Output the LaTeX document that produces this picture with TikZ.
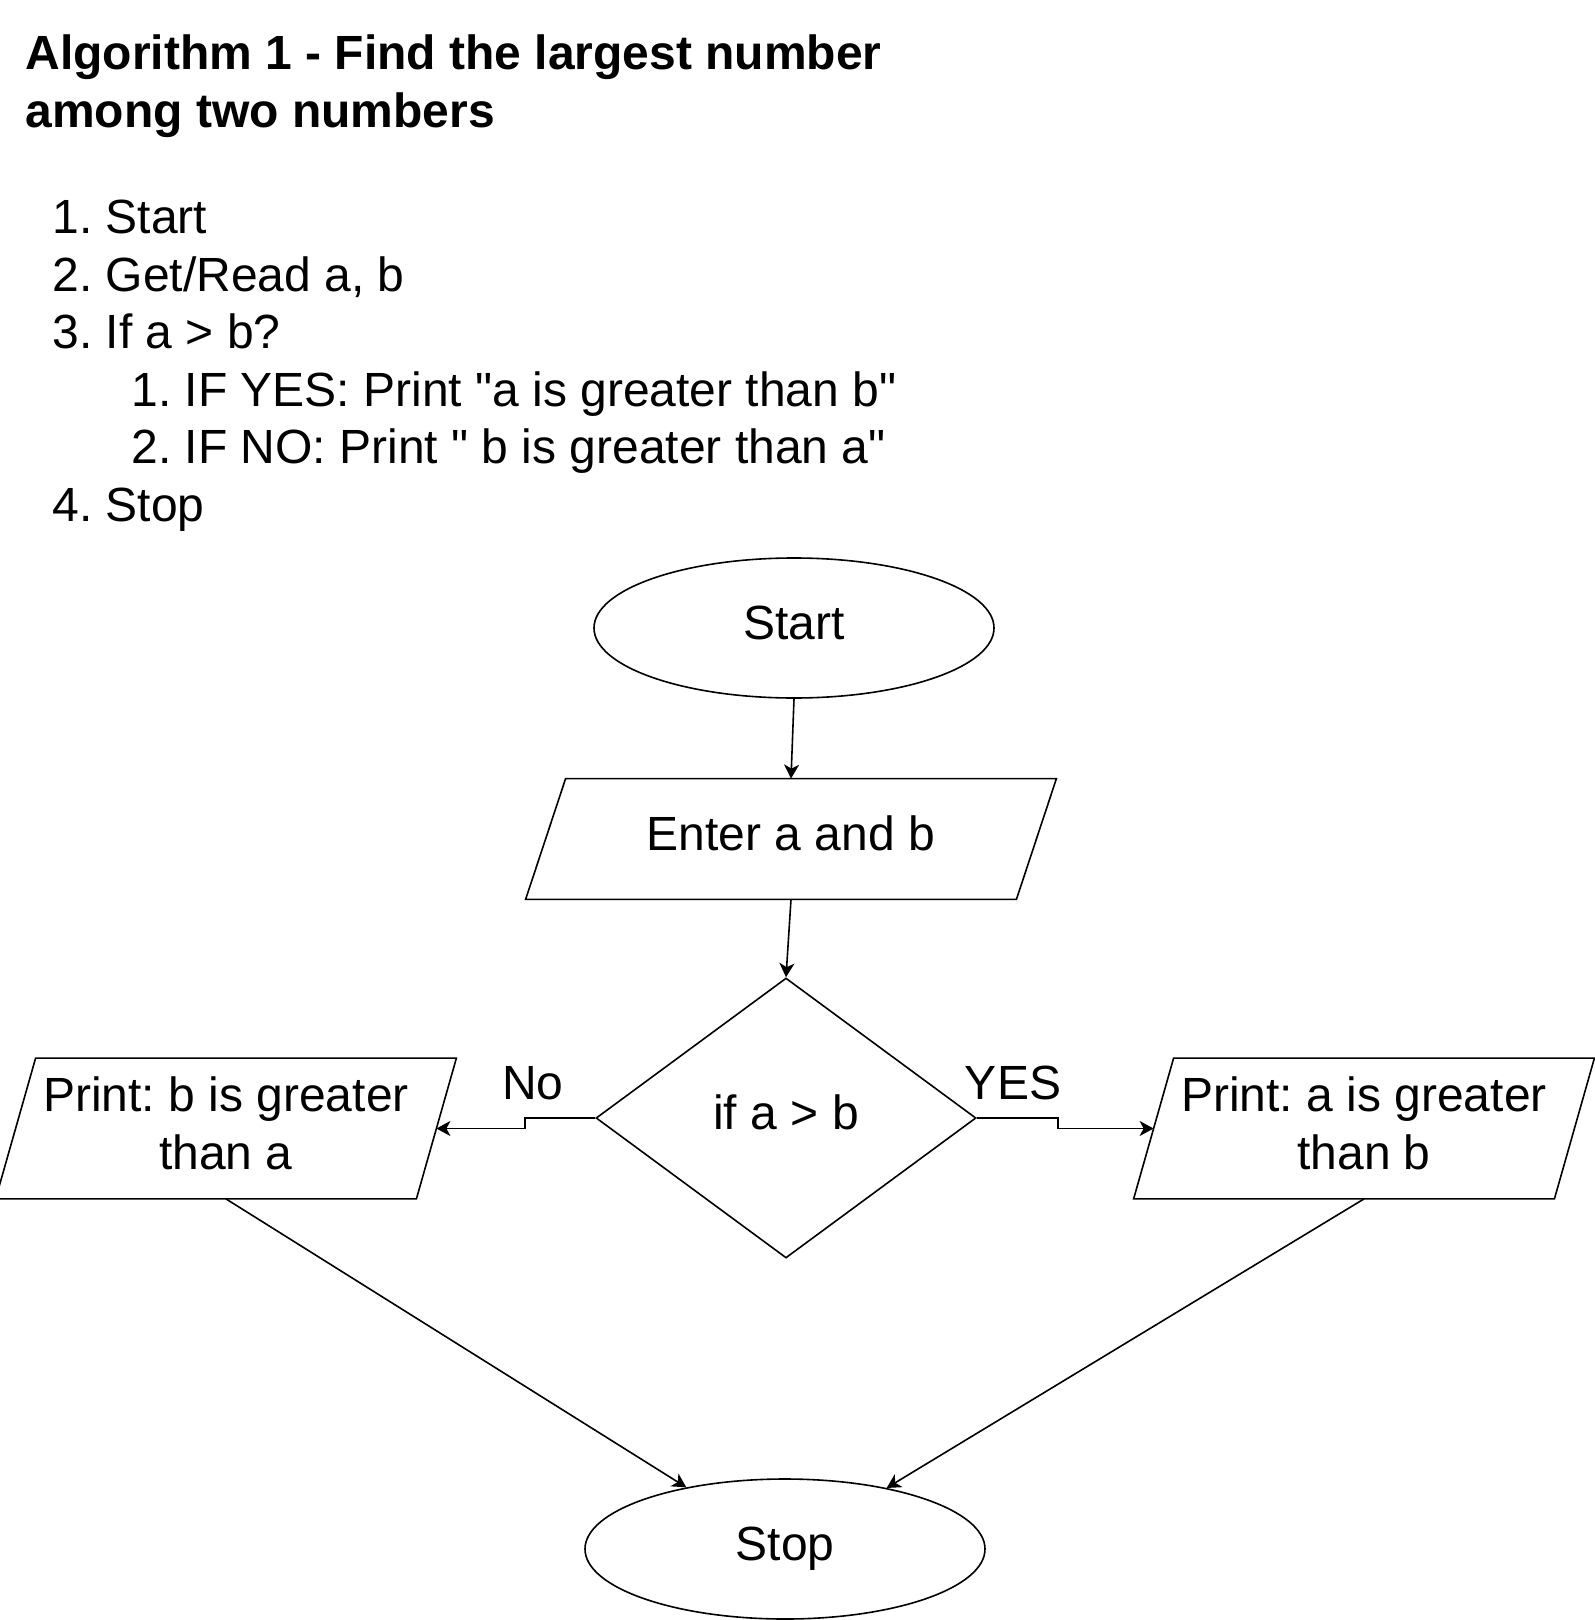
\documentclass[tikz,border=0pt]{standalone}
\usepackage{fontspec}
\setmainfont{Liberation Sans}[Ligatures=TeXOff]
\usetikzlibrary{shapes.geometric,arrows.meta,calc}
\frenchspacing
\begin{document}
\begin{tikzpicture}[x=0.5pt,y=-0.5pt,
  every node/.style={font=\fontsize{24}{28.8}\selectfont, inner sep=0pt},
  txt/.style={anchor=base west},
  title/.style={anchor=base west, font=\fontsize{24}{28.8}\selectfont\bfseries},
  one/.style={text height=17.5pt, text depth=6pt},
  oval/.style={ellipse, draw, line width=0.8pt, minimum width=200pt, minimum height=70pt, one},
  pbox/.style={rectangle, draw=none, minimum height=70pt},
  ptext/.style={align=center},
  shp/.style={line width=0.8pt, line join=miter},
  decision/.style={diamond, draw, line width=0.8pt, minimum width=190pt, minimum height=140pt, one},
  arr/.style={line width=0.8pt, -{Stealth[length=7pt, width=7.5pt, inset=2pt]}}
]
\fill[white] (0,0) rectangle (1594,1620);
\useasboundingbox (0,0) rectangle (1594,1620);

% header text
\node[title] (t1) at (25,70) {Algorithm 1 - Find the largest number};
\node[title] (t2) at (25,128) {among two numbers};
\node[txt] (l1) at (52,234) {1. Start};
\node[txt] (l2) at (52,291.5) {2. Get/Read a, b};
\node[txt] (l3) at (52,349) {3. If a > b?};
\node[txt] (l4) at (131,406.5) {1. IF YES: Print "a is greater than b"};
\node[txt] (l5) at (131,464) {2. IF NO: Print " b is greater than a"};
\node[txt] (l6) at (52,521.5) {4. Stop};

% flowchart nodes
\node[oval] (start) at (794,628) {Start};
\node[pbox, minimum width=265pt, minimum height=60pt, one] (enter) at (791,839) {Enter a and b};
\draw[shp] ($(enter.north west)+(40,0)$) -- (enter.north east) -- ($(enter.south east)+(-40,0)$) -- (enter.south west) -- cycle;
\node[decision] (dia) at (786,1118) {if a > b};
\node[pbox, minimum width=230pt] (lp) at (226,1128.5) {};
\draw[shp] ($(lp.north west)+(40,0)$) -- (lp.north east) -- ($(lp.south east)+(-40,0)$) -- (lp.south west) -- cycle;
\node[ptext] (lpt) at ($(lp.center)+(0,-5)$) {Print: b is greater\\than a};
\node[pbox, minimum width=230pt] (rp) at (1364,1128.5) {};
\draw[shp] ($(rp.north west)+(40,0)$) -- (rp.north east) -- ($(rp.south east)+(-40,0)$) -- (rp.south west) -- cycle;
\node[ptext] (rpt) at ($(rp.center)+(0,-5)$) {Print: a is greater\\than b};
\node[oval] (stop) at (785,1549) {Stop};

\coordinate (lpR) at ($(lp.east)+(-20,0)$);
\coordinate (rpL) at ($(rp.west)+(20,0)$);

\node (no) at (533,1083) {No};
\node (yes) at (1013,1083) {YES};

% connectors
\draw[arr] (start.south) -- (enter.north);
\draw[arr] (enter.south) -- (dia.north);
\draw[arr] (dia.west) -- ++(-70,0) |- (lpR);
\draw[arr] (dia.east) -- ++(81,0) |- (rpL);
\draw[arr] (lp.south) -- (stop.148);
\draw[arr] (rp.south) -- (stop.31);
\end{tikzpicture}
\end{document}
